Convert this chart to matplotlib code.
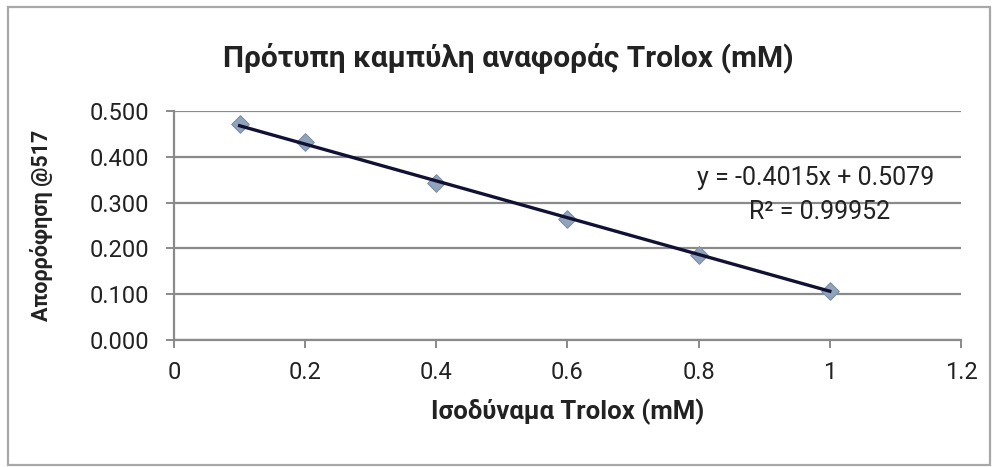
import matplotlib
matplotlib.use("Agg")
import matplotlib.pyplot as plt
from matplotlib.patches import Rectangle

# Trolox standard curve data
trolox_mM = [0.1, 0.2, 0.4, 0.6, 0.8, 1.0]
absorbance = [0.471, 0.433, 0.343, 0.264, 0.185, 0.106]
slope = -0.4015
intercept = 0.5079
r_squared = "0.99952"

x_ticks = [0, 0.2, 0.4, 0.6, 0.8, 1, 1.2]
x_tick_labels = ["0", "0.2", "0.4", "0.6", "0.8", "1", "1.2"]
y_ticks = [0.0, 0.1, 0.2, 0.3, 0.4, 0.5]

title = "Πρότυπη καμπύλη αναφοράς Trolox (mM)"
x_label = "Ισοδύναμα Trolox (mM)"
y_label = "Απορρόφηση @517"

plt.rcParams["font.family"] = ["Roboto", "DejaVu Sans"]
text_color = "#222222"
grid_color = "#8a8a8a"

fig = plt.figure(figsize=(10.03, 4.67), dpi=100)
fig.patch.set_facecolor("white")

# outer chart-area border
fig.patches.append(Rectangle((0.008, 0.0045), 0.979, 0.981, transform=fig.transFigure,
                             fill=False, edgecolor="#a8a8a8", linewidth=1.6))

ax = fig.add_axes([0.1735, 0.272, 0.7846, 0.4904])

ax.scatter(trolox_mM, absorbance, marker="D", s=80, color="#8fa3bb",
           edgecolors="#7d8fa6", linewidths=0.8, zorder=3)

x_fit = [trolox_mM[0], trolox_mM[-1]]
y_fit = [slope * v + intercept for v in x_fit]
ax.plot(x_fit, y_fit, color="#111133", linewidth=2.4, zorder=4)

ax.set_xlim(0, 1.2)
ax.set_ylim(0, 0.5)
ax.set_xticks(x_ticks)
ax.set_xticklabels(x_tick_labels)
ax.set_yticks(y_ticks)
ax.set_yticklabels([f"{v:.3f}" for v in y_ticks])

ax.grid(axis="y", color=grid_color, linewidth=1.6)
ax.set_axisbelow(True)
for side in ("top", "right"):
    ax.spines[side].set_visible(False)
for side in ("left", "bottom"):
    ax.spines[side].set_color(grid_color)
    ax.spines[side].set_linewidth(1.6)

ax.tick_params(axis="both", colors=grid_color, labelcolor=text_color,
               labelsize=17, length=6, width=1.4)
ax.tick_params(axis="y", pad=12)
ax.tick_params(axis="x", pad=9)

ax.set_xlabel(x_label, fontsize=18.5, fontweight="bold", color=text_color, labelpad=11)
ax.set_ylabel(y_label, fontsize=15.5, fontweight="bold", color=text_color, labelpad=26)
fig.text(0.507, 0.876, title, ha="center", va="center", fontsize=21.5,
         fontweight="bold", color=text_color)

eq = f"y = {slope:.4f}x + {intercept:.4f}"
ax.text(0.815, 0.707, eq, transform=ax.transAxes, ha="center", va="center",
        fontsize=18, color=text_color)
ax.text(0.82, 0.559, f"R² = {r_squared}", transform=ax.transAxes, ha="center",
        va="center", fontsize=18, color=text_color)

fig.savefig("out.png", dpi=100, facecolor="white")
